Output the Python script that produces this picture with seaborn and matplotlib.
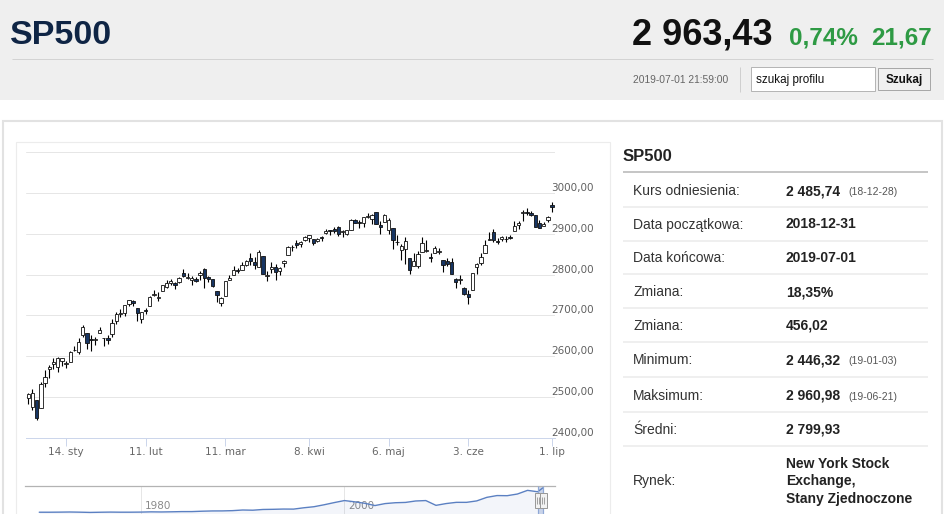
import numpy as np
import pandas as pd
import matplotlib
matplotlib.use("Agg")
import matplotlib.pyplot as plt
import seaborn as sns
from matplotlib.patches import Rectangle
from matplotlib.transforms import ScaledTranslation

# ---------------- data ----------------
holidays = ['2019-01-01', '2019-01-21', '2019-02-18', '2019-04-19', '2019-05-27']
dates = pd.bdate_range('2018-12-31', '2019-07-01')
dates = dates[~dates.isin(pd.to_datetime(holidays))]

opens = [2498.94, 2476.96, 2491.92, 2474.33, 2535.61, 2568.11, 2580.00, 2573.51, 2588.11, 2580.31,
         2585.10, 2614.75, 2609.28, 2651.27, 2657.88, 2643.48, 2638.84, 2657.44, 2644.97, 2644.89,
         2653.62, 2685.49, 2702.32, 2706.49, 2728.34, 2735.05, 2717.53, 2692.36, 2712.40, 2722.61,
         2750.30, 2743.50, 2760.24, 2769.28, 2779.05, 2780.24, 2780.67, 2804.35, 2792.36, 2787.50,
         2788.11, 2798.22, 2814.37, 2794.41, 2790.27, 2760.24, 2730.79, 2747.61, 2787.34, 2799.78,
         2811.52, 2810.79, 2822.61, 2840.76, 2831.34, 2819.72, 2844.52, 2796.01, 2812.66, 2819.72,
         2809.40, 2828.27, 2848.63, 2868.24, 2876.09, 2873.99, 2884.16, 2888.46, 2886.58, 2881.37,
         2891.92, 2900.86, 2908.32, 2912.26, 2916.04, 2904.81, 2898.78, 2909.99, 2934.00, 2928.99,
         2925.81, 2940.58, 2937.14, 2952.33, 2922.16, 2929.21, 2908.89, 2913.03, 2879.61, 2859.84,
         2863.10, 2840.19, 2820.12, 2820.38, 2855.80, 2858.60, 2841.94, 2854.02, 2856.06, 2836.70,
         2832.41, 2830.03, 2790.25, 2786.94, 2766.15, 2751.53, 2762.64, 2818.09, 2828.51, 2852.87,
         2885.83, 2903.27, 2882.73, 2886.24, 2886.82, 2889.75, 2906.71, 2920.55, 2949.60, 2952.71,
         2951.42, 2945.78, 2926.07, 2919.66, 2932.94, 2971.41]
highs = [2509.24, 2519.49, 2493.14, 2538.07, 2566.16, 2579.82, 2595.32, 2597.82, 2596.27, 2589.32,
         2613.08, 2625.76, 2645.06, 2675.47, 2657.88, 2653.19, 2647.20, 2672.38, 2644.97, 2650.93,
         2690.44, 2708.95, 2716.66, 2724.99, 2738.98, 2738.08, 2719.32, 2708.07, 2718.05, 2748.19,
         2761.85, 2757.90, 2775.66, 2787.33, 2789.88, 2781.58, 2794.20, 2813.49, 2803.12, 2795.76,
         2793.73, 2808.02, 2816.88, 2796.44, 2790.27, 2760.24, 2744.13, 2784.00, 2798.32, 2821.24,
         2816.59, 2830.73, 2835.41, 2852.42, 2843.54, 2860.31, 2846.16, 2809.79, 2829.87, 2825.56,
         2819.71, 2836.03, 2869.40, 2872.90, 2885.25, 2881.28, 2893.24, 2895.95, 2886.88, 2889.71,
         2893.42, 2910.54, 2909.60, 2916.06, 2918.00, 2908.40, 2909.51, 2936.31, 2936.83, 2933.10,
         2939.88, 2949.52, 2948.22, 2954.13, 2931.68, 2947.85, 2937.32, 2913.03, 2897.96, 2875.97,
         2891.31, 2840.19, 2852.54, 2858.68, 2892.15, 2885.48, 2853.86, 2868.88, 2865.47, 2836.70,
         2841.36, 2840.51, 2792.03, 2799.00, 2768.98, 2763.07, 2804.49, 2827.28, 2852.10, 2884.97,
         2904.77, 2910.61, 2888.57, 2895.24, 2894.45, 2897.27, 2930.79, 2931.74, 2958.06, 2964.15,
         2954.92, 2946.52, 2932.59, 2929.30, 2943.98, 2977.93]
lows = [2482.82, 2467.47, 2443.96, 2474.33, 2524.56, 2547.56, 2568.89, 2562.02, 2577.40, 2570.41,
        2585.10, 2612.68, 2606.36, 2647.58, 2617.27, 2612.86, 2627.01, 2657.33, 2624.06, 2631.05,
        2648.34, 2678.65, 2696.88, 2698.75, 2724.03, 2724.15, 2687.26, 2681.83, 2703.79, 2722.61,
        2748.63, 2735.42, 2760.24, 2767.29, 2774.06, 2764.55, 2779.11, 2794.99, 2789.47, 2775.13,
        2782.51, 2787.38, 2767.66, 2782.97, 2768.69, 2732.91, 2722.27, 2747.61, 2786.73, 2799.78,
        2803.46, 2810.79, 2821.99, 2823.27, 2812.43, 2817.38, 2800.47, 2785.02, 2803.99, 2787.72,
        2798.77, 2819.23, 2848.63, 2858.75, 2865.17, 2867.14, 2882.99, 2880.78, 2873.33, 2879.13,
        2881.99, 2898.37, 2896.48, 2900.71, 2895.45, 2891.90, 2896.35, 2908.53, 2926.05, 2912.84,
        2917.56, 2939.35, 2924.11, 2923.36, 2900.50, 2929.21, 2898.21, 2862.60, 2873.28, 2836.40,
        2825.39, 2801.43, 2820.12, 2815.08, 2855.80, 2854.23, 2831.29, 2854.02, 2851.11, 2805.49,
        2820.19, 2801.58, 2766.06, 2776.74, 2750.52, 2728.81, 2762.64, 2800.92, 2822.45, 2852.87,
        2885.51, 2878.53, 2874.68, 2881.99, 2879.62, 2887.30, 2905.44, 2911.43, 2931.50, 2946.87,
        2944.05, 2916.01, 2912.99, 2918.57, 2929.05, 2952.22]
closes = [2506.85, 2510.03, 2447.89, 2531.94, 2549.69, 2574.41, 2584.96, 2596.64, 2596.26, 2582.61,
          2610.30, 2616.10, 2635.96, 2670.71, 2632.90, 2638.70, 2642.33, 2664.76, 2643.85, 2640.00,
          2681.05, 2704.10, 2706.53, 2724.87, 2737.70, 2731.61, 2706.05, 2707.88, 2709.80, 2744.73,
          2753.03, 2745.73, 2775.60, 2779.76, 2784.70, 2774.88, 2792.67, 2796.11, 2793.90, 2792.38,
          2784.49, 2803.69, 2792.81, 2789.65, 2771.45, 2748.93, 2743.07, 2783.30, 2791.52, 2810.92,
          2808.48, 2822.48, 2832.94, 2832.57, 2824.23, 2854.88, 2800.71, 2798.36, 2818.46, 2805.37,
          2815.44, 2834.40, 2867.19, 2867.24, 2873.40, 2879.39, 2892.74, 2895.77, 2878.20, 2888.21,
          2888.32, 2907.41, 2905.58, 2907.06, 2900.45, 2905.03, 2907.97, 2933.68, 2927.25, 2926.17,
          2939.88, 2943.03, 2945.83, 2923.73, 2917.52, 2945.64, 2932.47, 2884.05, 2879.42, 2870.72,
          2881.40, 2811.87, 2834.41, 2850.96, 2876.32, 2859.53, 2840.23, 2864.36, 2856.27, 2822.24,
          2826.06, 2802.39, 2783.02, 2788.86, 2752.06, 2744.45, 2803.27, 2826.15, 2843.49, 2873.34,
          2886.73, 2885.72, 2879.84, 2891.64, 2886.98, 2889.67, 2917.75, 2926.46, 2954.18, 2950.46,
          2945.35, 2917.38, 2913.78, 2924.92, 2941.76, 2964.33]

x_tick_dates = ['2019-01-14', '2019-02-11', '2019-03-11', '2019-04-08', '2019-05-06', '2019-06-03', '2019-07-01']
x_tick_labels = ['14. sty', '11. lut', '11. mar', '8. kwi', '6. maj', '3. cze', '1. lip']
y_ticks = [2400, 2500, 2600, 2700, 2800, 2900, 3000, 3100]
y_tick_labels = ['2400,00', '2500,00', '2600,00', '2700,00', '2800,00', '2900,00', '3000,00', '']

nav_years = [1970, 1971, 1972, 1973, 1974, 1975, 1976, 1977, 1978, 1979,
             1980, 1981, 1982, 1983, 1984, 1985, 1986, 1987, 1988, 1989,
             1990, 1991, 1992, 1993, 1994, 1995, 1996, 1997, 1998, 1999,
             2000, 2001, 2002, 2003, 2004, 2005, 2006, 2007, 2008, 2009,
             2010, 2011, 2012, 2013, 2014, 2015, 2016, 2017, 2018, 2019, 2019.5]
nav_values = [92.06, 92.15, 102.09, 118.05, 97.55, 68.56, 90.19, 107.46, 95.10, 96.11,
              107.94, 135.76, 122.55, 140.64, 164.93, 167.24, 211.28, 242.17, 247.08, 277.72,
              353.40, 330.22, 417.09, 435.71, 466.45, 459.27, 615.93, 740.74, 970.43, 1229.23,
              1469.25, 1320.28, 1148.08, 879.82, 1111.92, 1211.92, 1248.29, 1418.30, 1468.36, 903.25,
              1115.10, 1257.64, 1257.60, 1426.19, 1848.36, 2058.90, 2043.94, 2238.83, 2673.61, 2506.85, 2964.33]
nav_ticks = [1980, 2000]
nav_tick_labels = ['1980', '2000']

header_title = 'SP500'
header_price = '2 963,43'
header_pct = '0,74%'
header_chg = '21,67'
header_time = '2019-07-01 21:59:00'

info_labels = ['Kurs odniesienia:', 'Data początkowa:', 'Data końcowa:', 'Zmiana:', 'Zmiana:',
               'Minimum:', 'Maksimum:', 'Średni:', 'Rynek:']
info_values = ['2 485,74', '2018-12-31', '2019-07-01', '18,35%', '456,02',
               '2 446,32', '2 960,98', '2 799,93', ['New York Stock', 'Exchange,', 'Stany Zjednoczone']]
info_dates = ['(18-12-28)', '', '', '', '', '(19-01-03)', '(19-06-21)', '', '']

# ---------------- figure ----------------
sns.set_theme(style="white")
plt.rcParams['font.family'] = ['DejaVu Sans']
ARIAL = ['Liberation Sans', 'DejaVu Sans']

W, H = 945, 514
fig = plt.figure(figsize=(W / 100, H / 100), dpi=100, facecolor='white')

bg = fig.add_axes([0, 0, 1, 1], zorder=0)
bg.set_xlim(0, W)
bg.set_ylim(H, 0)
bg.axis('off')


def rect(ax_, x0, y0, x1, y1, fc='none', ec='none', lw=0.0, z=1):
    ax_.add_patch(Rectangle((x0, y0), x1 - x0, y1 - y0, facecolor=fc, edgecolor=ec,
                            linewidth=lw, zorder=z))


def hline(ax_, x0, x1, y, c, lw=1.0, z=2):
    ax_.plot([x0, x1], [y, y], color=c, lw=lw * 0.72, solid_capstyle='butt', zorder=z)


def vline(ax_, x, y0, y1, c, lw=1.0, z=2):
    ax_.plot([x, x], [y0, y1], color=c, lw=lw * 0.72, solid_capstyle='butt', zorder=z)


# header band
rect(bg, 0, 0, W, 100, fc='#efefef')
hline(bg, 12, 933, 58.5, '#d3d3d3')
bg.text(10, 44, header_title, family=ARIAL, weight='bold', fontsize=24.5, color='#0f2545', va='baseline')
bg.text(773, 45, header_price, family=ARIAL, weight='bold', fontsize=26, color='#111111',
        va='baseline', ha='right')
bg.text(858, 44, header_pct, family=ARIAL, weight='bold', fontsize=17.5, color='#2e9a44',
        va='baseline', ha='right')
bg.text(932, 44, header_chg, family=ARIAL, weight='bold', fontsize=17.5, color='#2e9a44',
        va='baseline', ha='right')
bg.text(633, 83, header_time, family=ARIAL, fontsize=7.4, color='#666666', va='baseline')
vline(bg, 739.5, 67, 92, '#cfcfcf')
rect(bg, 751, 67, 875, 91, fc='white', ec='#b5b5b5', lw=0.72, z=2)
bg.text(756, 83.5, 'szukaj profilu', family=ARIAL, fontsize=8.4, color='#111111', va='baseline', zorder=3)
rect(bg, 878, 68, 930, 90, fc='#f0f0f0', ec='#a8a8a8', lw=0.72, z=2)
bg.text(904, 83.5, 'Szukaj', family=ARIAL, weight='bold', fontsize=8.4, color='#111111',
        va='baseline', ha='center', zorder=3)

# panels
rect(bg, 3, 121, 942, 540, fc='white', ec='#e2e2e2', lw=1.5)
rect(bg, 15.5, 141.5, 609.5, 540, fc='white', ec='#ececec', lw=0.8)

# right info panel
bg.text(623, 161, 'SP500', family=ARIAL, weight='bold', fontsize=12, color='#222222', va='baseline')
hline(bg, 623, 928, 172, '#c6c6c6', lw=2)
sep_y = [206.7, 240.7, 274.3, 308.3, 341.7, 376.7, 411.7, 445.7]
for y in sep_y:
    hline(bg, 623, 928, y, '#ececec', lw=1.6)
base_y = [195, 228.5, 262.5, 296.5, 330, 364.5, 399.5, 433.5, 485]
for lab, val, dt, y in zip(info_labels, info_values, info_dates, base_y):
    bg.text(633, y, lab, family=ARIAL, fontsize=10, color='#333333', va='baseline')
    if isinstance(val, list):
        for k, line in enumerate(val):
            bg.text(786, 467.5 + 17.5 * k, line, family=ARIAL, weight='bold', fontsize=10,
                    color='#222222', va='baseline')
    else:
        bg.text(786, y, val, family=ARIAL, weight='bold', fontsize=10, color='#222222', va='baseline')
    if dt:
        bg.text(848, y, dt, family=ARIAL, fontsize=7.5, color='#555555', va='baseline')

# ---------------- candlestick chart ----------------
ax = fig.add_axes([26 / W, 1 - 438 / H, (555 - 26) / W, (438 - 152) / H], zorder=2)
ax.set_facecolor('none')
o = np.array(opens)
h = np.array(highs)
l = np.array(lows)
c = np.array(closes)
xi = np.arange(len(dates))
up = c >= o
body_bottom = np.minimum(o, c)
body_h = np.maximum(np.abs(c - o), 1.2)
colors = np.where(up, 'white', '#173563')
ax.vlines(xi, l, h, color='black', lw=0.8, zorder=2)
ax.bar(xi, body_h, bottom=body_bottom, width=0.8, color=colors, edgecolor='#111111',
       linewidth=0.6, zorder=3)
ax.set_xlim(-0.55, 125.7)
ax.set_ylim(2400, 3100)
pos = [int(np.where(dates == pd.Timestamp(d))[0][0]) for d in x_tick_dates]
ax.set_xticks(pos)
ax.set_xticklabels(x_tick_labels)
ax.tick_params(axis='x', bottom=True, direction='out', length=5.8, width=0.72, color='#ccd6eb',
               pad=0.5, labelsize=7.5, labelcolor='#666666')
ax.yaxis.tick_right()
ax.set_yticks(y_ticks)
ax.set_yticklabels(y_tick_labels)
ax.tick_params(axis='y', right=True, left=False, length=0, pad=-2.9, labelsize=7.5, labelcolor='#606060')
for lab in ax.get_yticklabels():
    lab.set_va('bottom')
ax.grid(axis='y', color='#e6e6e6', lw=0.72)
ax.grid(axis='x', visible=False)
ax.set_axisbelow(True)
for s in ['left', 'right', 'top']:
    ax.spines[s].set_visible(False)
ax.spines['bottom'].set_color('#ccd6eb')
ax.spines['bottom'].set_linewidth(0.72)
ax.set_xlabel('')
ax.set_ylabel('')

# ---------------- navigator ----------------
nav = fig.add_axes([25 / W, 0, (555 - 25) / W, (514 - 486) / H], zorder=2)
nav.set_facecolor('none')
nav.fill_between(nav_years, nav_values, -118, color='#335cad', alpha=0.06, lw=0)
sns.lineplot(x=nav_years, y=nav_values, ax=nav, color='#5b80c2', lw=1.0)
nav.axvspan(2019.0, 2019.5, color=(102 / 255, 133 / 255, 194 / 255), alpha=0.3, lw=0)
nav.set_xlim(1968.6, 2020.7)
nav.set_ylim(-118, 3188)
nav.set_xticks(nav_ticks)
nav.set_xticklabels(nav_tick_labels)
nav.set_yticks([])
nav.tick_params(axis='x', bottom=True, length=0, pad=-9.4, labelsize=7.5, labelcolor='#8a8a8a')
for lab in nav.get_xticklabels():
    lab.set_ha('left')
    lab.set_transform(lab.get_transform() + ScaledTranslation(3.5 / 100, 0, fig.dpi_scale_trans))
nav.grid(axis='x', color='#e6e6e6', lw=0.72)
nav.grid(axis='y', visible=False)
nav.set_axisbelow(True)
for s in ['left', 'right', 'bottom']:
    nav.spines[s].set_visible(False)
nav.spines['top'].set_color('#b3b3b3')
nav.spines['top'].set_linewidth(0.9)
nav.set_xlabel('')
nav.set_ylabel('')

# navigator handles overlay (pixel space)
ov = fig.add_axes([0, 0, 1, 1], zorder=5)
ov.set_xlim(0, W)
ov.set_ylim(H, 0)
ov.axis('off')
ov.set_facecolor('none')
vline(ov, 538, 486, 514, '#8fa8d6', lw=1.2)
vline(ov, 543, 486, 514, '#8fa8d6', lw=1.2)
for cx in [538, 543]:
    rect(ov, cx - 3.5, 493, cx + 3.5, 508, fc='#f2f2f2', ec='#999999', lw=0.72, z=3)
    vline(ov, cx - 1.2, 497, 504, '#999999', lw=0.9, z=4)
    vline(ov, cx + 1.2, 497, 504, '#999999', lw=0.9, z=4)

fig.savefig('out.png', dpi=100, facecolor='white')
